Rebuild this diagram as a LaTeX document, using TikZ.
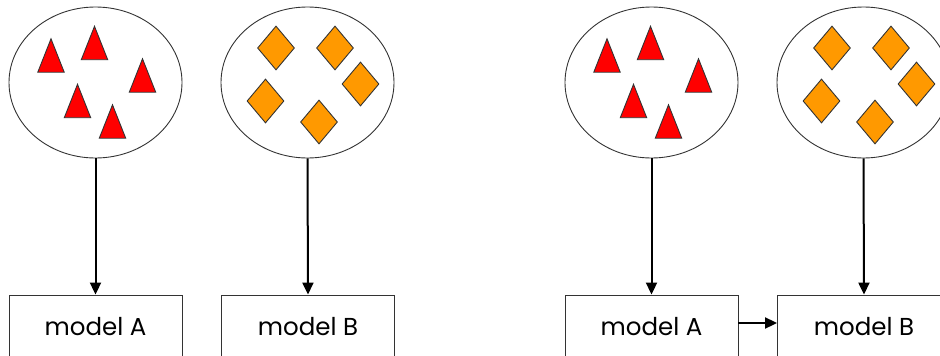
\documentclass[tikz,border=0pt]{standalone}
\usepackage{fontspec}
\setmainfont{Poppins}
\usetikzlibrary{shapes.geometric,arrows.meta}
\definecolor{triRed}{HTML}{FF0000}
\definecolor{diaOrange}{HTML}{FF9900}
\definecolor{edgeGray}{HTML}{333333}
\tikzset{
  bag/.style={ellipse,draw=edgeGray,line width=0.9pt,minimum width=173pt,minimum height=151pt,inner sep=0pt},
  modelbox/.style={rectangle,draw=edgeGray,line width=0.9pt,minimum width=173pt,minimum height=64pt,inner sep=0pt,font=\fontsize{24.5}{28}\selectfont},
  flow/.style={draw=black,line width=2pt,-{Triangle[length=12pt,width=11pt]}},
  trishape/.style={fill=triRed,draw=edgeGray,line width=0.9pt,line join=miter},
  diashape/.style={diamond,fill=diaOrange,draw=edgeGray,line width=0.9pt,minimum width=37pt,minimum height=44pt,inner sep=0pt},
  pics/redtri/.style={code={\draw[trishape] (-13.2,16.7) -- (0,-16.7) -- (13.2,16.7) -- cycle;}}
}
\begin{document}
\begin{tikzpicture}[x=1pt,y=-1pt]
\useasboundingbox (0,0) rectangle (940,356);
\clip (0,0) rectangle (940,356);
% ---------- left pair ----------
\node[bag] (eA1) at (95.5,82.5) {};
\node[bag] (eB1) at (307.5,82.5) {};
\pic at (51,55.5) {redtri};
\pic at (94.5,43) {redtri};
\pic at (142.5,75.5) {redtri};
\pic at (77.5,101) {redtri};
\pic at (112.5,121.5) {redtri};
\node[diashape] (d11) at (276,48) {};
\node[diashape] (d12) at (335,48) {};
\node[diashape] (d13) at (360.5,84) {};
\node[diashape] (d14) at (265.5,101) {};
\node[diashape] (d15) at (319,122) {};
\node[modelbox] (mA1) at (95.5,327) {model A};
\node[modelbox] (mB1) at (308,327) {model B};
\draw[flow] (eA1.south) -- (mA1.north);
\draw[flow] (eB1.south) -- (mB1.north);
% ---------- right pair ----------
\begin{scope}[xshift=556pt]
\node[bag] (eA2) at (95.5,82.5) {};
\node[bag] (eB2) at (307.5,82.5) {};
\pic at (51,55.5) {redtri};
\pic at (94.5,43) {redtri};
\pic at (142.5,75.5) {redtri};
\pic at (77.5,101) {redtri};
\pic at (112.5,121.5) {redtri};
\node[diashape] (d21) at (276,48) {};
\node[diashape] (d22) at (335,48) {};
\node[diashape] (d23) at (360.5,84) {};
\node[diashape] (d24) at (265.5,101) {};
\node[diashape] (d25) at (319,122) {};
\node[modelbox] (mA2) at (95.5,327) {model A};
\node[modelbox] (mB2) at (308,327) {model B};
\end{scope}
\draw[flow] (eA2.south) -- (mA2.north);
\draw[flow] (eB2.south) -- (mB2.north);
\draw[flow] ([yshift=4pt]mA2.east) -- ([yshift=4pt]mB2.west);
\end{tikzpicture}
\end{document}
